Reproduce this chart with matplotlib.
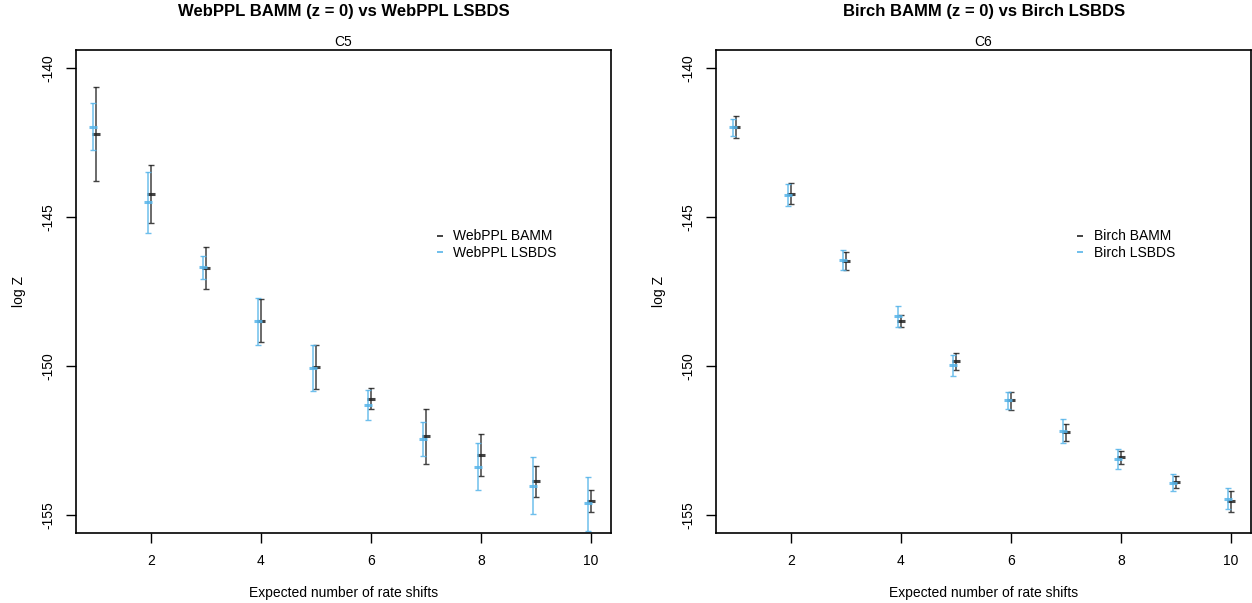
import matplotlib.pyplot as plt
from matplotlib.lines import Line2D
import numpy as np

plt.rcParams['font.family'] = ['Liberation Sans', 'DejaVu Sans']

shifts = np.arange(1, 11)

# C5: WebPPL
webppl_bamm_mid = [-142.22, -144.23, -146.72, -148.48, -150.02, -151.10, -152.35, -152.98, -153.86, -154.52]
webppl_bamm_hi = [-140.65, -143.26, -146.01, -147.75, -149.28, -150.75, -151.44, -152.29, -153.35, -154.16]
webppl_bamm_lo = [-143.80, -145.20, -147.42, -149.19, -150.77, -151.45, -153.27, -153.68, -154.40, -154.88]
webppl_lsbds_mid = [-141.98, -144.51, -146.69, -148.49, -150.07, -151.31, -152.44, -153.38, -154.02, -154.61]
webppl_lsbds_hi = [-141.18, -143.48, -146.30, -147.71, -149.30, -150.81, -151.87, -152.57, -153.06, -153.71]
webppl_lsbds_lo = [-142.76, -145.54, -147.08, -149.28, -150.84, -151.81, -153.01, -154.16, -154.97, -155.53]

# C6: Birch
birch_bamm_mid = [-141.99, -144.23, -146.47, -148.48, -149.83, -151.15, -152.21, -153.05, -153.88, -154.53]
birch_bamm_hi = [-141.63, -143.87, -146.19, -148.28, -149.55, -150.88, -151.94, -152.86, -153.69, -154.18]
birch_bamm_lo = [-142.35, -144.57, -146.77, -148.69, -150.12, -151.47, -152.52, -153.27, -154.10, -154.89]
birch_lsbds_mid = [-141.99, -144.26, -146.43, -148.33, -149.97, -151.15, -152.17, -153.11, -153.91, -154.46]
birch_lsbds_hi = [-141.70, -143.91, -146.10, -147.99, -149.62, -150.87, -151.77, -152.77, -153.63, -154.10]
birch_lsbds_lo = [-142.28, -144.63, -146.79, -148.69, -150.33, -151.45, -152.58, -153.46, -154.19, -154.81]

BLACK = '#222222'
BLUE = '#56B4E9'


def draw(ax, bamm, lsbds, names, sub):
    for (mid, hi, lo), col, dx in [(bamm, BLACK, 0.0), (lsbds, BLUE, -0.05)]:
        mid = np.array(mid)
        yerr = [mid - np.array(lo), np.array(hi) - mid]
        ax.errorbar(shifts + dx, mid, yerr=yerr, fmt='none', ecolor=col,
                    elinewidth=1.1, capsize=2.2, capthick=1.0, alpha=0.85)
        ax.plot(shifts + dx, mid, ls='none', marker='_', ms=6, mew=2.2,
                color=col, alpha=0.85)

    ax.set_xlim(0.64, 10.36)
    ax.set_ylim(-155.6, -139.4)
    ax.set_xticks([2, 4, 6, 8, 10])
    ax.set_yticks([-140, -145, -150, -155])
    ax.set_yticklabels(['-140', '-145', '-150', '-155'], rotation=90, va='center')
    ax.tick_params(length=7, width=1, labelsize=10, pad=8)
    for s in ax.spines.values():
        s.set_linewidth(1.2)
    ax.set_xlabel('Expected number of rate shifts', fontsize=10, labelpad=13)
    ax.set_ylabel('log Z', fontsize=10, labelpad=11)
    ax.set_title(sub, fontsize=10, pad=3)

    handles = [Line2D([], [], ls='none', marker='_', ms=4, mew=1.2, color=BLACK),
               Line2D([], [], ls='none', marker='_', ms=4, mew=1.2, color=BLUE)]
    ax.legend(handles, names, loc='upper left', bbox_to_anchor=(0.655, 0.643),
              frameon=False, fontsize=10, handlelength=1.0, handletextpad=0.45,
              labelspacing=0.18, borderpad=0)


fig = plt.figure(figsize=(12.52, 6.03), dpi=100)
ax1 = fig.add_axes([0.0607, 0.1161, 0.4273, 0.801])
ax2 = fig.add_axes([0.5719, 0.1161, 0.4273, 0.801])

draw(ax1, (webppl_bamm_mid, webppl_bamm_hi, webppl_bamm_lo),
     (webppl_lsbds_mid, webppl_lsbds_hi, webppl_lsbds_lo),
     ['WebPPL BAMM', 'WebPPL LSBDS'], 'C5')
draw(ax2, (birch_bamm_mid, birch_bamm_hi, birch_bamm_lo),
     (birch_lsbds_mid, birch_lsbds_hi, birch_lsbds_lo),
     ['Birch BAMM', 'Birch LSBDS'], 'C6')

fig.text(0.2744, 0.981, 'WebPPL BAMM (z = 0) vs WebPPL LSBDS', ha='center', va='center',
         fontsize=12, fontweight='bold')
fig.text(0.7856, 0.981, 'Birch BAMM (z = 0) vs Birch LSBDS', ha='center', va='center',
         fontsize=12, fontweight='bold')

fig.savefig('out.png', dpi=100)
